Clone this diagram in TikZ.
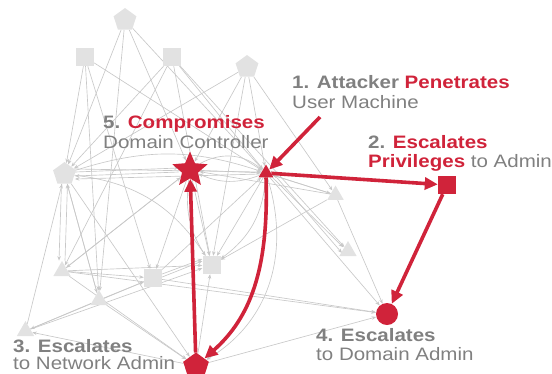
\documentclass[tikz,border=0pt]{standalone}
\usepackage{fontspec}
\usetikzlibrary{shapes.geometric,arrows.meta}
\newfontfamily\lblfont[FakeStretch=1.14]{Liberation Sans}
\definecolor{hired}{HTML}{D0233A}
\definecolor{txtgray}{HTML}{808080}
\definecolor{nodegray}{HTML}{E2E2E2}
\definecolor{edgegray}{HTML}{C8C8C8}
\pgfdeclarelayer{links}
\pgfsetlayers{links,main}
\tikzset{
  gpent/.style={regular polygon, regular polygon sides=5, minimum size=24bp, inner sep=0pt, fill=nodegray},
  gsq/.style={rectangle, minimum size=18bp, inner sep=0pt, fill=nodegray},
  gtri/.style={regular polygon, regular polygon sides=3, minimum size=20bp, inner sep=0pt, fill=nodegray},
  gedge/.style={draw=edgegray, line width=0.65bp, -{Stealth[length=4.5bp,width=3.5bp]}},
  redarrow/.style={draw=hired, line width=3.6bp, -{Triangle[length=13bp,width=12bp]}},
  lbl/.style={inner sep=0pt, anchor=base west, text=txtgray, font=\lblfont\fontsize{18bp}{20bp}\selectfont},
}
\begin{document}
\begin{tikzpicture}[x=1bp,y=-1bp]
\useasboundingbox (0,0) rectangle (552,373);
\begin{scope}
\clip (0,0) rectangle (552,373);

% ---- gray hosts ----
\node[gpent] (p1) at (125,20) {};
\node[gsq]   (s1) at (85,57) {};
\node[gsq]   (s2) at (172,57) {};
\node[gpent] (p2) at (247,67) {};
\node[gpent] (p3) at (64.5,174) {};
\node[gtri]  (t1) at (62,271) {};
\node[gtri]  (t2) at (99,300) {};
\node[gtri]  (t3) at (25.5,331) {};
\node[gsq]   (s3) at (153,278) {};
\node[gsq]   (s4) at (211.5,265) {};
\node[gtri,minimum size=19bp]  (t4) at (335.5,195) {};
\node[gtri]  (t5) at (348,251) {};

% ---- attack path hosts ----
\node[star, star points=5, star point ratio=2.2, minimum size=37bp, inner sep=0pt, fill=hired] (star) at (190,170) {};
\node[regular polygon, regular polygon sides=3, minimum size=17bp, inner sep=0pt, fill=hired] (rtri) at (266,173) {};
\node[rectangle, minimum size=18bp, inner sep=0pt, fill=hired] (rsq) at (447,185) {};
\node[circle, minimum size=22bp, inner sep=0pt, fill=hired] (rcirc) at (387,314) {};
\node[regular polygon, regular polygon sides=5, minimum size=27bp, inner sep=0pt, fill=hired] (rpent) at (196,366) {};

% ---- gray links, kept behind the hosts ----
\begin{pgfonlayer}{links}
\draw[gedge] (p1) -- (p3);
\draw[gedge] (p1) -- (star);
\draw[gedge] (p1) -- (rtri);
\draw[gedge] (p1) -- (t2);
\draw[gedge] (s1) -- (p3);
\draw[gedge] (s1) -- (t2);
\draw[gedge] (s1) -- (s3);
\draw[gedge] (s1) -- (rtri);
\draw[gedge] (s2) -- (p3);
\draw[gedge] (s2) -- (t1);
\draw[gedge] (s2) -- (s4);
\draw[gedge] (s2) -- (rtri);
\draw[gedge] (s2) -- (t5);
\draw[gedge] (p2) -- (p3);
\draw[gedge] (p2) -- (star);
\draw[gedge] (p2) -- (s4);
\draw[gedge] (p2) -- (rtri);
\draw[gedge] (p2) -- (t4);

\draw[gedge] ([yshift=-2bp]star.west) -- ([yshift=-2bp]p3.east);
\draw[gedge] ([yshift=2bp]p3.east) -- ([yshift=2bp]star.west);
\draw[gedge] ([yshift=-1bp]rtri.west) -- ([yshift=-5bp]p3.east);
\draw[gedge] ([yshift=5bp]p3.east) -- ([yshift=1bp]rtri.west);
\draw[gedge] (star) to[bend left=35] (rtri);
\draw[gedge] (rtri) to[bend left=22] (star);
\draw[gedge] (p3) to[bend left=18] (rtri);
\draw[gedge] ([xshift=-3bp]p3.south) -- ([xshift=-3bp]t1.north);
\draw[gedge] ([xshift=3bp]t1.north) -- ([xshift=3bp]p3.south);
\draw[gedge] (t3) -- (p3);
\draw[gedge] (t2) -- (p3);
\draw[gedge] (p3) -- (t2);
\draw[gedge] (p3) -- (rpent);
\draw[gedge] (p3) to[bend left=25] (s4);

\draw[gedge] (t1) -- (s4);
\draw[gedge] (t1) -- (s3);
\draw[gedge] (t1) -- (star);
\draw[gedge] (t1) -- (rpent);
\draw[gedge] (t1) -- (rcirc);
\draw[gedge] (t2) -- (t3);
\draw[gedge] (t2) -- (s3);
\draw[gedge] (t2) -- (rpent);
\draw[gedge] (rpent) -- (t3);
\draw[gedge] (t3) -- (s3);
\draw[gedge] (t3) -- (s4);
\draw[gedge] ([yshift=1bp]s3.east) -- ([yshift=4bp]s4.west);
\draw[gedge] ([yshift=4bp]s3.east) -- ([yshift=6bp]s4.west);
\draw[gedge] (s3) -- (rcirc);
\draw[gedge] (s3) -- (rtri);
\draw[gedge] (star) -- (s3);
\draw[gedge] (rpent) -- (s4);
\draw[gedge] (rpent) -- (rcirc);

\draw[gedge] (star) -- (s4);
\draw[gedge] (star) to[bend right=20] (s4);
\draw[gedge] (rtri) -- (s4);
\draw[gedge] (rtri) to[bend left=25] (s4);
\draw[gedge] (star) -- (t1);
\draw[gedge] (t4) -- (s4);
\draw[gedge] (t4) -- (star);
\draw[gedge] (t4) -- (rtri);
\draw[gedge] (t4) -- (rcirc);
\draw[gedge] (rtri) -- (t4);
\draw[gedge] ([xshift=2bp]rtri.south east) -- ([xshift=-1bp]t5.north west);
\draw[gedge] ([yshift=2bp]rtri.east) -- ([yshift=-2bp]t5.west);
\draw[gedge] (rtri) -- (rcirc);
\draw[gedge] (rtri) .. controls (290,250) and (272,320) .. (rpent);
\draw[gedge] (star) -- (rtri);
\end{pgfonlayer}

% ---- attack path ----
\coordinate (entry) at (320,117);
\draw[redarrow] (entry) -- (rtri);
\draw[redarrow] (rtri) -- (rsq);
\draw[redarrow] (rsq) -- (rcirc);
\draw[redarrow] (rtri.south) .. controls (269,270) and (250,318) .. (rpent);
\draw[redarrow] (rpent) -- (star);

% ---- step labels ----
\node[lbl] (l1a) at (292,88) {\bfseries 1. Attacker \textcolor{hired}{Penetrates}};
\node[lbl] (l1b) at (292,108) {User Machine};
\node[lbl] (l2a) at (368,148) {\bfseries 2. \textcolor{hired}{Escalates}};
\node[lbl] (l2b) at (368,167) {\textbf{\textcolor{hired}{Privileges}} to Admin};
\node[lbl] (l5a) at (103,128) {\bfseries 5. \textcolor{hired}{Compromises}};
\node[lbl] (l5b) at (103,148) {Domain Controller};
\node[lbl] (l3a) at (13,352) {\bfseries 3. Escalates};
\node[lbl] (l3b) at (13,369.5) {to Network Admin};
\node[lbl] (l4a) at (316,341) {\bfseries 4. Escalates};
\node[lbl] (l4b) at (316,360) {to Domain Admin};
\end{scope}
\end{tikzpicture}
\end{document}
